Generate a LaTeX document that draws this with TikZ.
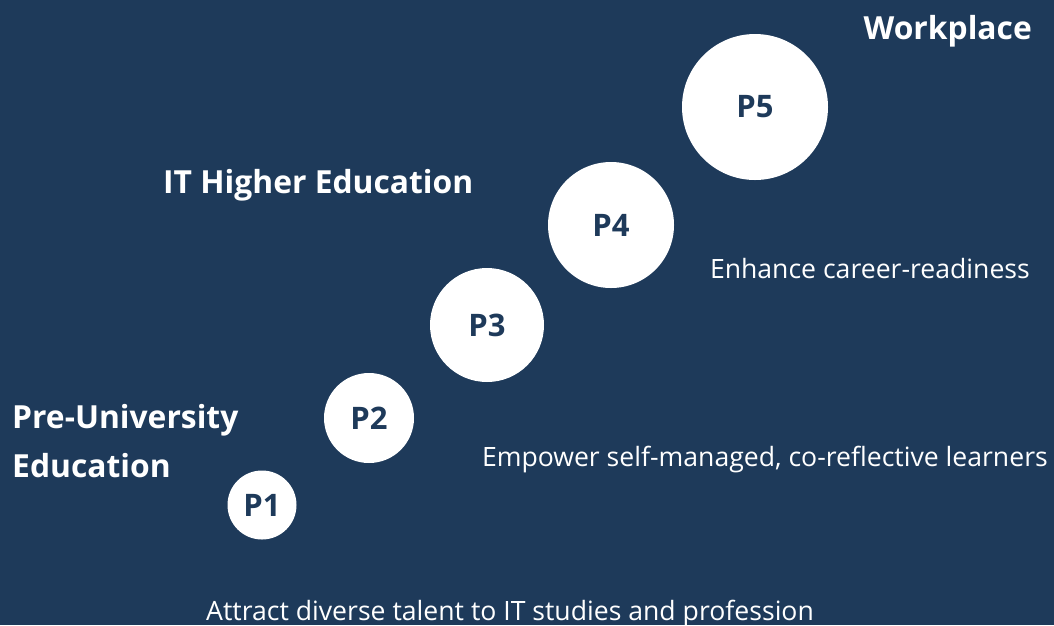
\documentclass[tikz,border=0pt]{standalone}
\usepackage{fontspec}
\setmainfont{Open Sans}
\definecolor{navy}{HTML}{1E3A5A}
\tikzset{
    stage/.style={circle, fill=white, inner sep=0pt, text=navy, font=\bfseries\fontsize{31}{36}\selectfont},
    level/.style={text=white, font=\bfseries\fontsize{31.8}{49}\selectfont, inner sep=0pt},
    aim/.style={text=white, font=\fontsize{26.6}{32}\selectfont, inner sep=0pt}
}
\begin{document}
\begin{tikzpicture}[x=1pt, y=-1pt]
\fill[navy] (0,0) rectangle (1054,625);
\useasboundingbox (0,0) rectangle (1054,625);

\node[stage, minimum size=69pt]  (P1) at (262,505) {P1};
\node[stage, minimum size=90pt]  (P2) at (369,418) {P2};
\node[stage, minimum size=114pt] (P3) at (487,325) {P3};
\node[stage, minimum size=126pt] (P4) at (611,225) {P4};
\node[stage, minimum size=146pt] (P5) at (755,107) {P5};

% stage names
\node[level, anchor=base east] (work) at (1032,39) {Workplace};
\node[level, anchor=base west] (uni) at (163,193) {IT Higher Education};
% base of a two-line node sits on its last line
\node[level, anchor=base west, align=left] (school) at (12,477) {Pre-University\\Education};

% goals
\node[aim, anchor=base east] (ready) at (1030,278) {Enhance career-readiness};
\node[aim, anchor=base east] (learn) at (1048,466) {Empower self-managed, co-reflective learners};
\node[aim, anchor=base west] (talent) at (206,620) {Attract diverse talent to IT studies and profession};
\end{tikzpicture}
\end{document}
